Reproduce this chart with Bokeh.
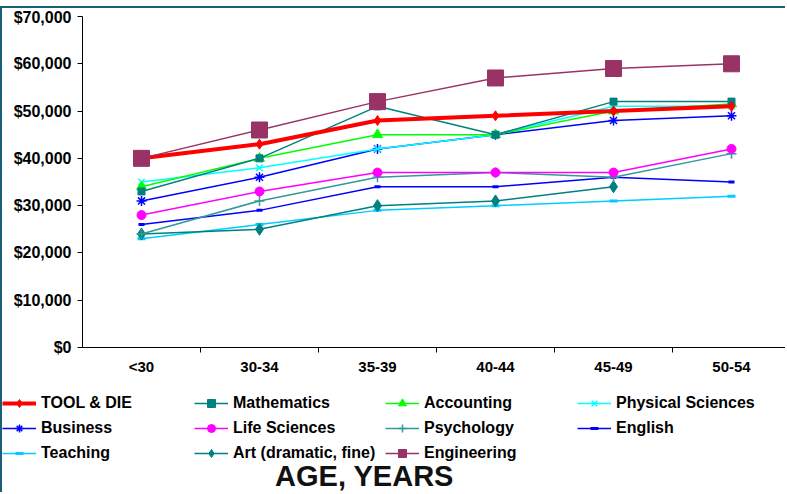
import numpy as np
from bokeh.plotting import figure
from bokeh.models import Range1d, FixedTicker, NumeralTickFormatter, Legend, LegendItem, Label
from bokeh.embed import file_html
from bokeh.resources import INLINE

categories = ["<30", "30-34", "35-39", "40-44", "45-49", "50-54"]
tool_die = [40000, 43000, 48000, 49000, 50000, 51000]
mathematics = [33000, 40000, 51000, 45000, 52000, 52000]
accounting = [34000, 40000, 45000, 45000, 50000, 51500]
physical_sciences = [35000, 38000, 42000, 45000, 51000, 51000]
business = [31000, 36000, 42000, 45000, 48000, 49000]
life_sciences = [28000, 33000, 37000, 37000, 37000, 42000]
psychology = [24000, 31000, 36000, 37000, 36000, 41000]
english = [26000, 29000, 34000, 34000, 36000, 35000]
teaching = [23000, 26000, 29000, 30000, 31000, 32000]
art = [24000, 25000, 30000, 31000, 34000, float("nan")]
engineering = [40000, 46000, 52000, 57000, 59000, 60000]
y_ticks = [0, 10000, 20000, 30000, 40000, 50000, 60000, 70000]

FONT = "Liberation Sans"
BORDER = "2px solid #1b5e78"
xs = np.arange(len(categories)) + 0.5

p = figure(width=785, height=375, output_backend="svg", toolbar_location=None,
           x_range=Range1d(0, 705 / 118), y_range=Range1d(0, 70000),
           min_border_top=8, min_border_left=80, min_border_right=0, min_border_bottom=36)
p.xgrid.visible = False
p.ygrid.visible = False
p.outline_line_color = None
p.styles = {"border-left": BORDER, "border-top": BORDER, "margin-top": "6px"}

# axes
xa = p.xaxis[0]
xa.ticker = FixedTicker(ticks=list(xs), minor_ticks=list(np.arange(1, len(categories) + 1)))
xa.major_label_overrides = {float(x): c for x, c in zip(xs, categories)}
xa.major_tick_out = 0
xa.major_tick_in = 0
xa.minor_tick_out = 5
xa.minor_tick_in = 0
xa.minor_tick_line_color = "black"
xa.axis_line_color = "black"
xa.major_label_text_font = FONT
xa.major_label_text_font_style = "bold"
xa.major_label_text_font_size = "15px"
xa.major_label_text_color = "black"
xa.major_label_standoff = 5

ya = p.yaxis[0]
ya.ticker = FixedTicker(ticks=y_ticks)
ya.formatter = NumeralTickFormatter(format="$0,0")
ya.major_tick_out = 5
ya.major_tick_in = 0
ya.minor_tick_line_color = None
ya.axis_line_color = "black"
ya.major_tick_line_color = "black"
ya.major_label_text_font = FONT
ya.major_label_text_font_style = "bold"
ya.major_label_text_font_size = "16px"
ya.major_label_text_color = "black"
ya.major_label_standoff = 6

series = [
    # name, values, color, marker, size, line width
    ("Teaching", teaching, "#00CCFF", "dash", 8, 1.5),
    ("Art (dramatic, fine)", art, "#008080", "diamond", 12, 1.5),
    ("English", english, "#0000FF", "dash", 6, 1.5),
    ("Psychology", psychology, "#339999", "cross", 10, 1.5),
    ("Life Sciences", life_sciences, "#FF00FF", "circle", 9, 1.5),
    ("Business", business, "#0000FF", "asterisk", 10, 1.5),
    ("Physical Sciences", physical_sciences, "#00FFFF", "x", 9, 1.5),
    ("Accounting", accounting, "#00FF00", "triangle", 10, 1.5),
    ("Mathematics", mathematics, "#008080", "square", 7, 1.5),
    ("TOOL & DIE", tool_die, "#FF0000", "diamond", 10, 4),
    ("Engineering", engineering, "#993366", "square", 16, 1.5),
]

# legend panel: a separate, axis-less figure below the chart
p2 = figure(width=785, height=111, output_backend="svg", toolbar_location=None,
            x_range=Range1d(0, 1), y_range=Range1d(0, 1),
            x_axis_type=None, y_axis_type=None,
            min_border=0, min_border_left=0, min_border_right=0,
            min_border_top=0, min_border_bottom=0)
p2.xgrid.visible = False
p2.ygrid.visible = False
p2.outline_line_color = None
p2.styles = {"border-left": BORDER}

proxies = {}
for name, vals, color, marker, size, lw in series:
    mk_lw = 3 if marker == "dash" else (1.5 if marker in ("cross", "x", "asterisk") else 1)
    p.line(xs, vals, line_color=color, line_width=lw)
    p.scatter(xs, vals, marker=marker, size=size, fill_color=color,
              line_color=color, line_width=mk_lw)
    lsize = 11 if size > 12 else min(size, 10)
    # legend proxies: same data, lying outside the legend panel's visible range
    l2 = p2.line(xs, vals, line_color=color, line_width=lw)
    m2 = p2.scatter(xs, vals, marker=marker, size=lsize, fill_color=color,
                    line_color=color, line_width=mk_lw)
    proxies[name] = [l2, m2]

legend_cols = [
    ["TOOL & DIE", "Business", "Teaching"],
    ["Mathematics", "Life Sciences", "Art (dramatic, fine)"],
    ["Accounting", "Psychology", "Engineering"],
    ["Physical Sciences", "English"],
]
col_x = [0, 192, 383, 575]
for names, vx in zip(legend_cols, col_x):
    items = [LegendItem(label=n, renderers=proxies[n]) for n in names]
    h = 20 * len(names) + 5 * (len(names) - 1)
    lg = Legend(items=items, location=(vx, 111 - 12 - h), orientation="vertical",
                glyph_width=34, glyph_height=20, label_height=20, spacing=5,
                label_standoff=5, padding=0, margin=0,
                border_line_color=None, background_fill_alpha=0,
                label_text_font=FONT, label_text_font_style="bold",
                label_text_font_size="16px", label_text_color="black")
    p2.add_layout(lg, "center")

title = Label(x=362, y=17, x_units="screen", y_units="screen", text="AGE, YEARS",
              text_align="center", text_baseline="alphabetic",
              text_font=FONT, text_font_style="bold", text_font_size="29px",
              text_color="#111111")
p2.add_layout(title)

open("out.html", "w").write(file_html([p, p2], INLINE))
